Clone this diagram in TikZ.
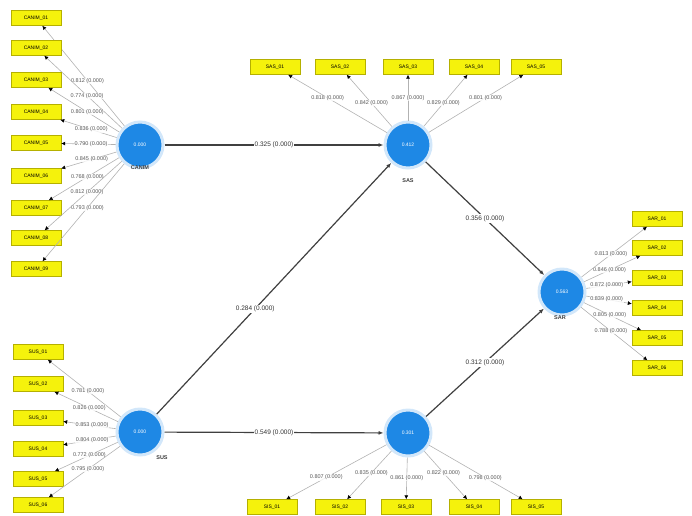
\documentclass[tikz,border=0pt]{standalone}
\usepackage{fontspec}
\setmainfont{Liberation Sans}
\usetikzlibrary{arrows.meta}
\definecolor{lvblue}{HTML}{1E88E5}
\definecolor{mvyellow}{HTML}{F5F20C}
\definecolor{mvborder}{HTML}{B5B000}
\begin{document}
\begin{tikzpicture}[x=1pt,y=-1pt,
  lv/.style={circle,fill=lvblue,draw=lvblue!20,line width=3pt,minimum size=46pt,inner sep=0pt,text=white,font=\fontsize{5}{6}\selectfont},
  mv/.style={rectangle,fill=mvyellow,draw=mvborder,line width=0.4pt,minimum width=50pt,minimum height=15pt,inner sep=1pt,font=\fontsize{5}{6}\selectfont},
  lvname/.style={font=\fontsize{5.5}{6}\selectfont\bfseries,text=black!75},
  pathline/.style={draw=black!75,line width=1.2pt,-{Latex[length=5pt,width=4pt]}},
  ldline/.style={draw=black!30,line width=0.6pt,-{Latex[length=4pt,width=4pt,color=black]}},
  plab/.style={fill=white,inner sep=1pt,font=\fontsize{6.5}{7}\selectfont,text=black!80},
  llab/.style={fill=white,fill opacity=0.8,text opacity=1,inner sep=0.5pt,font=\fontsize{5.5}{6}\selectfont,text=black!65}]
\useasboundingbox (0,0) rectangle (692,515);
% latent variables
\node[lv] (A) at (140,145) {0.000};
\node[lv] (B) at (408,145) {0.412};
\node[lv] (C) at (562,292) {0.563};
\node[lv] (D) at (140,432) {0.000};
\node[lv] (E) at (408,433) {0.301};
\node[lvname] (An) at (140,168) {CANIM};
\node[lvname] (Bn) at (408,181) {SAS};
\node[lvname] (Cn) at (560,318) {SAR};
\node[lvname] (Dn) at (162,458) {SUS};
% left-top indicators
\foreach \i/\y/\l in {1/18/0.812,2/48/0.774,3/80/0.801,4/112/0.836,5/143/0.790,6/176/0.845,7/208/0.768,8/238/0.812,9/269/0.793}{
  \node[mv] (a\i) at (36,\y) {CANIM\_0\i};
  \draw[ldline] (A) -- node[llab,pos=0.45]{\l\ (0.000)} (a\i);
}
% bottom-left indicators
\foreach \i/\y/\l in {1/352/0.781,2/384/0.826,3/418/0.853,4/449/0.804,5/479/0.772,6/505/0.795}{
  \node[mv] (d\i) at (38,\y) {SUS\_0\i};
  \draw[ldline] (D) -- node[llab,pos=0.45]{\l\ (0.000)} (d\i);
}
% top indicators
\foreach \i/\x/\l/\p in {1/275/0.818/0.6,2/340/0.842/0.45,3/408/0.867/0.5,4/474/0.829/0.45,5/536/0.801/0.6}{
  \node[mv] (b\i) at (\x,67) {SAS\_0\i};
  \draw[ldline] (B) -- node[llab,pos=\p]{\l\ (0.000)} (b\i);
}
% bottom indicators
\foreach \i/\x/\l/\p in {1/272/0.807/0.6,2/340/0.835/0.45,3/406/0.861/0.5,4/474/0.822/0.45,5/536/0.798/0.6}{
  \node[mv] (e\i) at (\x,507) {SIS\_0\i};
  \draw[ldline] (E) -- node[llab,pos=\p]{\l\ (0.000)} (e\i);
}
% right indicators
\foreach \i/\y/\l in {1/219/0.813,2/248/0.846,3/278/0.872,4/308/0.839,5/338/0.805,6/368/0.788}{
  \node[mv] (c\i) at (657,\y) {SAR\_0\i};
  \draw[ldline] (C) -- node[llab,pos=0.45]{\l\ (0.000)} (c\i);
}
% structural paths
\draw[pathline] (A) -- node[plab]{0.325 (0.000)} (B);
\draw[pathline] (D) -- node[plab,pos=0.42]{0.284 (0.000)} (B);
\draw[pathline] (B) -- node[plab,pos=0.5]{0.356 (0.000)} (C);
\draw[pathline] (E) -- node[plab,pos=0.5]{0.312 (0.000)} (C);
\draw[pathline] (D) -- node[plab]{0.549 (0.000)} (E);
\end{tikzpicture}
\end{document}
